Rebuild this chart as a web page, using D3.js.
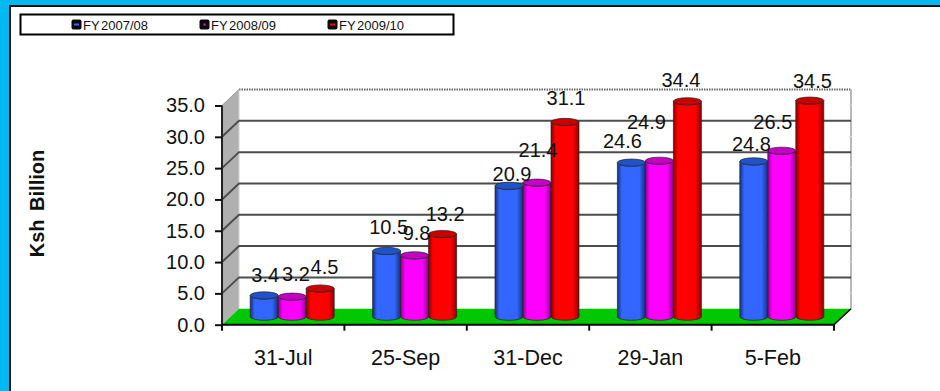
<!DOCTYPE html>
<html>
<head>
<meta charset="utf-8">
<script src="https://cdnjs.cloudflare.com/ajax/libs/d3/7.8.5/d3.min.js"></script>
<style>
html,body{margin:0;padding:0;background:#fff}
svg{display:block}
text{font-family:"Liberation Sans",Arial,sans-serif;fill:#111}
</style>
</head>
<body>
<div id="chart"></div>
<script>
// Domestic revenue collections by date, in Ksh billion
const categories = ["31-Jul", "25-Sep", "31-Dec", "29-Jan", "5-Feb"];
const seriesNames = ["FY 2007/08", "FY 2008/09", "FY 2009/10"];
const fy0708 = [3.4, 10.5, 20.9, 24.6, 24.8];
const fy0809 = [3.2, 9.8, 21.4, 24.9, 26.5];
const fy0910 = [4.5, 13.2, 31.1, 34.4, 34.5];
const yTicks = [0, 5, 10, 15, 20, 25, 30, 35];

const seriesValues = [fy0708, fy0809, fy0910];

const W = 940, H = 391;
const depthX = 17, depthY = 16;       // oblique offset of the back wall
const midX = 9, midY = 8;             // cylinders stand mid-way along the floor
const ry = 3.6;                       // cylinder end-cap radius

const palette = [
  {edge:"#14307e", body:"#3366ff", cap:"#2153c8"},
  {edge:"#8a008a", body:"#ff00ff", cap:"#c400c4"},
  {edge:"#8a0000", body:"#ff0000", cap:"#c80000"}
];

// Hand-placed data label offsets from the top of each cylinder [dx, dy], by series then category
const labelNudge = [
  [[1,-13.4],[2,-17],[3,-5],[-9,-15],[-2.4,-10.4]],
  [[3.8,-16],[2,-15],[1,-26],[-13,-32],[-9,-21.7]],
  [[4.3,-14.5],[2.5,-13],[1,-17],[-6.5,-14],[2.6,-12.3]]
];

const svg = d3.select("#chart").append("svg").attr("width", W).attr("height", H);
const defs = svg.append("defs");

palette.forEach((p, i) => {
  const g = defs.append("linearGradient").attr("id", "cyl" + i);
  [[0, p.edge], [0.16, p.body], [0.78, p.body], [1, p.edge]].forEach(([o, c]) =>
    g.append("stop").attr("offset", o).attr("stop-color", c));
});

// Cyan page frame and the white panel
svg.append("rect").attr("width", W).attr("height", H).attr("fill", "#00b9f2");
svg.append("rect").attr("x", 10).attr("y", 6).attr("width", W).attr("height", H)
  .attr("fill", "#fff").attr("stroke", "#111").attr("stroke-width", 2);

const x = d3.scaleBand().domain(categories).range([222, 834]);
const bar = d3.scaleBand().domain(d3.range(seriesNames.length)).range([0, 84]);
const y = d3.scaleLinear().domain([0, 35]).range([324.7, 105.5]);

const x0 = x.range()[0], x1 = x.range()[1];
const y0 = y(0), yTop = y(35);

// Grey side wall
svg.append("polygon")
  .attr("points", [[x0, y0], [x0 + depthX, y0 - depthY], [x0 + depthX, yTop - depthY], [x0, yTop]].join(" "))
  .attr("fill", "#b0b0b0");

// Back wall border
svg.append("path")
  .attr("d", `M${x0 + depthX},${yTop - depthY}H${x1 + depthX}`)
  .attr("stroke", "#666").attr("stroke-width", 2).attr("stroke-dasharray", "1.5 1").attr("fill", "none");
svg.append("path")
  .attr("d", `M${x1 + depthX},${yTop - depthY}V${y0 - depthY}`)
  .attr("stroke", "#b8b8b8").attr("stroke-width", 2).attr("fill", "none");
svg.append("line")
  .attr("x1", x0 + depthX).attr("x2", x0 + depthX)
  .attr("y1", yTop - depthY).attr("y2", y0 - depthY)
  .attr("stroke", "#d0d0d0").attr("stroke-width", 1);

// Gridlines run along the side wall and across the back
svg.append("g").selectAll("path").data(yTicks.filter(t => t > 0 && t < 35)).join("path")
  .attr("d", t => `M${x0},${y(t)}L${x0 + depthX},${y(t) - depthY}H${x1 + depthX}`)
  .attr("fill", "none").attr("stroke", "#4d4d4d").attr("stroke-width", 2);

svg.append("path")
  .attr("d", `M${x0},${yTop}L${x0 + depthX},${yTop - depthY}`)
  .attr("stroke", "#9a9a9a").attr("fill", "none");

// Right edge minor marks
svg.append("g").selectAll("line").data(d3.range(2.5, 35, 5)).join("line")
  .attr("x1", x1 + depthX - 2).attr("x2", x1 + depthX + 1)
  .attr("y1", d => y(d) - depthY).attr("y2", d => y(d) - depthY)
  .attr("stroke", "#d8d8d8");

// Green floor
svg.append("polygon")
  .attr("points", [[x0, y0], [x0 + depthX, y0 - depthY], [x1 + depthX, y0 - depthY], [x1, y0]].join(" "))
  .attr("fill", "#00c800");

// Value axis
svg.append("g").attr("transform", `translate(${x0},0)`)
  .call(d3.axisLeft(y).tickValues(yTicks).tickFormat(d3.format(".1f")).tickSize(7).tickPadding(10))
  .call(g => g.select(".domain").attr("stroke", "#222").attr("stroke-width", 2).attr("d", `M0,${y0}V${yTop}`))
  .call(g => g.selectAll(".tick line").attr("stroke", "#111").attr("stroke-width", 2))
  .call(g => g.selectAll("text").attr("font-size", 20).attr("font-family", null).attr("fill", "#111"));

// Category axis: labels centred in the band, ticks on the band edges
svg.append("g").attr("transform", `translate(0,${y0})`)
  .call(d3.axisBottom(x).tickSize(0).tickPadding(25))
  .call(g => g.select(".domain").remove())
  .call(g => g.selectAll("text").attr("font-size", 21.5).attr("font-family", null).attr("fill", "#111"));
svg.append("path").attr("d", `M${x0},${y0}H${x1}`).attr("stroke", "#000").attr("stroke-width", 2);
svg.append("path").attr("d", `M${x1},${y0}L${x1 + depthX},${y0 - depthY}`).attr("stroke", "#000").attr("stroke-width", 1.5);
svg.append("g").selectAll("line").data(categories.map(c => x(c)).concat(x1)).join("line")
  .attr("x1", d => d).attr("x2", d => d).attr("y1", y0).attr("y2", y0 + 6)
  .attr("stroke", "#111").attr("stroke-width", 2);

// Cylinders
const centre = (ci, si) => x(categories[ci]) + x.bandwidth() / 2 + midX - 42 + bar(si) + bar.bandwidth() / 2;
const baseY = v => y(v) - midY;
const rx = bar.bandwidth() / 2;

seriesValues.forEach((vals, si) => {
  const g = svg.append("g");
  vals.forEach((v, ci) => {
    const cx = centre(ci, si), top = baseY(v), bot = baseY(0);
    g.append("path")
      .attr("d", `M${cx - rx},${top}V${bot}A${rx},${ry} 0 0 0 ${cx + rx},${bot}V${top}A${rx},${ry} 0 0 1 ${cx - rx},${top}Z`)
      .attr("fill", `url(#cyl${si})`).attr("stroke", "#222").attr("stroke-width", 0.7);
    g.append("ellipse").attr("cx", cx).attr("cy", top).attr("rx", rx).attr("ry", ry)
      .attr("fill", palette[si].cap).attr("stroke", "#222").attr("stroke-width", 0.7);
  });
});

// Data labels
seriesValues.forEach((vals, si) => {
  vals.forEach((v, ci) => {
    const [dx, dy] = labelNudge[si][ci];
    svg.append("text")
      .attr("x", centre(ci, si) + dx).attr("y", baseY(v) + dy)
      .attr("text-anchor", "middle").attr("font-size", 20)
      .text(v.toFixed(1));
  });
});

// Axis title
svg.append("text")
  .attr("transform", "translate(43.5,203.5) rotate(-90)")
  .attr("text-anchor", "middle").attr("font-size", 20).attr("font-weight", "bold")
  .attr("word-spacing", 3)
  .text("Ksh Billion");

// Legend
svg.append("rect").attr("x", 20.5).attr("y", 14.5).attr("width", 433).attr("height", 20)
  .attr("fill", "#fff").attr("stroke", "#000").attr("stroke-width", 2);
const legend = svg.append("g").selectAll("g").data(seriesNames).join("g")
  .attr("transform", (d, i) => `translate(${71.5 + i * 128},0)`);
legend.append("rect").attr("y", 19.5).attr("width", 10).attr("height", 10).attr("rx", 2).attr("fill", "#0a0a0a");
legend.append("rect").attr("x", (d, i) => i === 1 ? 4 : 2.5).attr("y", 23.5)
  .attr("width", (d, i) => i === 1 ? 2 : 5).attr("height", 2)
  .attr("fill", (d, i) => palette[i].body);
legend.append("text").attr("x", 11.5).attr("y", 30).attr("font-size", 13).attr("word-spacing", -2)
  .text(d => d);
</script>
</body>
</html>
